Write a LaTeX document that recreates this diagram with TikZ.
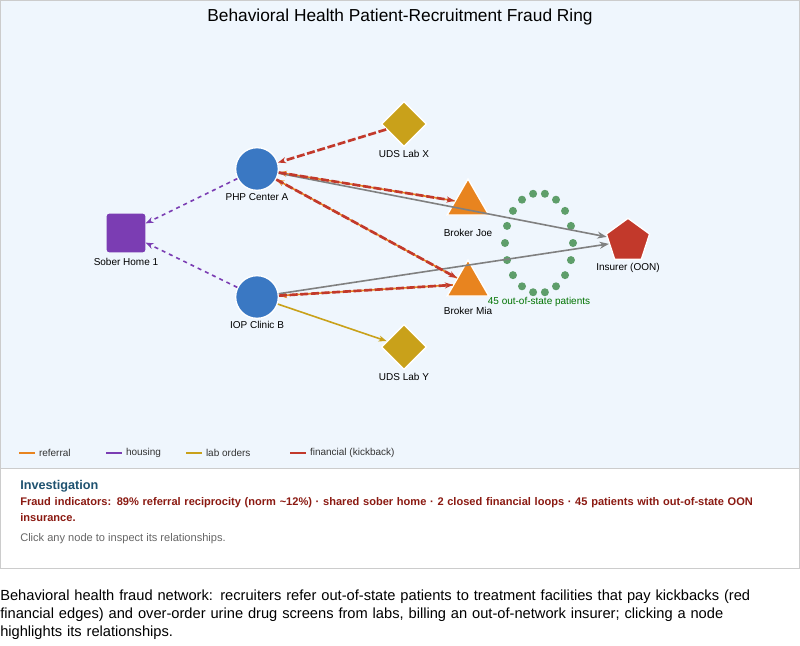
\documentclass[tikz,border=0pt]{standalone}
\usepackage{fontspec}
\setmainfont{Liberation Sans}
\usetikzlibrary{shapes.geometric, arrows.meta, positioning}
\definecolor{panel}{HTML}{EFF6FD}
\definecolor{cblue}{HTML}{3A78C3}
\definecolor{cpurple}{HTML}{7B3DB3}
\definecolor{cgold}{HTML}{C9A11A}
\definecolor{corange}{HTML}{E8841F}
\definecolor{cred}{HTML}{C2392B}
\definecolor{cgreen}{HTML}{5E9E6A}
\definecolor{ctitle}{HTML}{1F5270}
\definecolor{cdark}{HTML}{8B1A12}
\tikzset{
  lbl/.style={font=\fontsize{7.5}{9}\selectfont},
  clinic/.style={circle, fill=cblue, draw=white, line width=1pt, minimum size=32pt, inner sep=0pt},
  lab/.style={diamond, fill=cgold, draw=white, line width=1pt, minimum size=34pt, inner sep=0pt},
  broker/.style={isosceles triangle, shape border rotate=90, isosceles triangle apex angle=60, fill=corange, draw=white, line width=1pt, minimum width=22pt, minimum height=27pt, inner sep=0pt},
  referral/.style={corange, line width=1.2pt, -{Stealth[length=6pt]}},
  housing/.style={cpurple, line width=1.2pt, dashed, -{Stealth[length=6pt]}},
  laborder/.style={cgold, line width=1.2pt, -{Stealth[length=6pt]}},
  kickback/.style={cred, line width=2pt, dash pattern=on 6pt off 2pt, -{Stealth[length=6pt]}},
  billing/.style={gray, line width=1.2pt, -{Stealth[length=7pt]}},
  para/.style={anchor=north west, align=left, text width=#1},
}
\hyphenpenalty=10000
\exhyphenpenalty=10000
\begin{document}
\begin{tikzpicture}[x=0.75pt,y=-0.75pt]
  \useasboundingbox (0,0) rectangle (800,646);
  \fill[white] (0,0) rectangle (800,646);
  \draw[gray!40, fill=panel] (0.5,0.5) rectangle (799.5,468);
  \draw[gray!40, fill=white] (0.5,468) rectangle (799.5,568);
  \node[font=\fontsize{13}{15}\selectfont] (title) at (400,17) {Behavioral Health Patient-Recruitment Fraud Ring};

  % nodes
  \node[clinic] (php) at (257,169) {};
  \node[clinic] (iop) at (257,297) {};
  \node[rectangle, rounded corners=2pt, fill=cpurple, minimum size=29pt, inner sep=0pt] (sober) at (126,233) {};
  \node[lab] (labx) at (404,124) {};
  \node[lab] (laby) at (404,347) {};
  \node[broker] (joe) at (468,203) {};
  \node[broker] (mia) at (468,284) {};
  \node[regular polygon, regular polygon sides=5, fill=cred, draw=white, line width=1pt, minimum size=34pt, inner sep=0pt] (ins) at (628,241) {};

  \node[lbl] at (257,197) {PHP Center A};
  \node[lbl] at (257,325) {IOP Clinic B};
  \node[lbl] at (126,262) {Sober Home 1};
  \node[lbl] at (404,154) {UDS Lab X};
  \node[lbl] at (404,377) {UDS Lab Y};
  \node[lbl] at (468,233) {Broker Joe};
  \node[lbl] at (468,311) {Broker Mia};
  \node[lbl] at (628,268) {Insurer (OON)};

  % patients
  \foreach \a in {0,20,...,340}
    \fill[cgreen] ({539+34*cos(\a)},{243+50*sin(\a)}) circle (3pt);
  \node[lbl, text=green!45!black] (pat) at (539,302) {45 out-of-state patients};

  % edges
  \draw[housing] (php) -- (sober);
  \draw[housing] (iop) -- (sober);
  \draw[referral] (joe) -- (php);
  \draw[referral] (mia) -- (php);
  \draw[referral] (mia) -- (iop);
  \draw[billing] (php) -- (ins);
  \draw[billing] (iop) -- (ins);
  \draw[laborder] (iop) -- (laby);
  \draw[kickback] (labx) -- (php);
  \draw[kickback] (php) -- (joe);
  \draw[kickback] (php) -- (mia);
  \draw[kickback] (iop) -- (mia);

  % legend
  \foreach \x/\c/\t in {19/corange/referral, 106/cpurple/housing, 186/cgold/lab orders, 290/cred/financial (kickback)}
    \draw[\c, line width=2pt] (\x,453) -- (\x+16,453) node[lbl, text=black!80, right, inner sep=2pt] {\t};

  % investigation
  \node[font=\bfseries\fontsize{9.5}{11}\selectfont, text=ctitle, anchor=west, inner sep=0pt] (inv) at (20,486) {Investigation};
  \node[para=580pt, font=\bfseries\fontsize{8.3}{12}\selectfont, text=cdark, inner sep=0pt] (ind) at (20,497) {Fraud indicators: 89\% referral reciprocity (norm \textasciitilde12\%) · shared sober home · 2 closed financial loops · 45 patients with out-of-state OON insurance.};
  \node[font=\fontsize{8.3}{10}\selectfont, text=black!60, anchor=west, inner sep=0pt] (hint) at (20,539) {Click any node to inspect its relationships.};

  % caption
  \node[para=592pt, font=\fontsize{11}{13.5}\selectfont, inner sep=0pt] (cap) at (0,590) {Behavioral health fraud network: recruiters refer out-of-state patients to treatment facilities that pay kickbacks (red financial edges) and over-order urine drug screens from labs, billing an out-of-network insurer; clicking a node highlights its relationships.};
\end{tikzpicture}
\end{document}
